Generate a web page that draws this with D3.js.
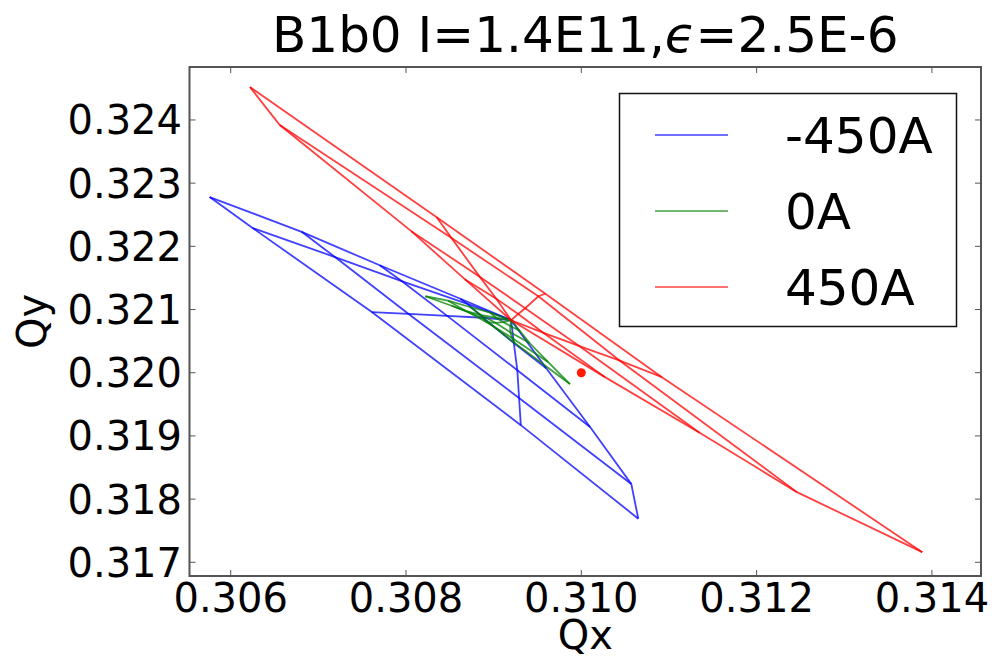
<!DOCTYPE html>
<html>
<head>
<meta charset="utf-8">
<script src="https://cdn.jsdelivr.net/npm/d3@7"></script>
<style>
  body { margin: 0; background: #fff; }
  svg { display: block; font-family: "DejaVu Sans", sans-serif; }
</style>
</head>
<body>
<svg></svg>
<script>
const size = {w: 996, h: 656};
const box = {l: 189.5, r: 981, t: 67, b: 576};

// tune footprints: small-amplitude tune + one row per amplitude level, 5 angles each
const origin = [0.30920, 0.32083];

const gridM450 = [
    [[0.30862, 0.32117], [0.30870, 0.32109], [0.30888, 0.32087], [0.30923, 0.32047], [0.30960, 0.32007]],
    [[0.30770, 0.32170], [0.30795, 0.32145], [0.30847, 0.32090], [0.30927, 0.32004], [0.31010, 0.31914]],
    [[0.30681, 0.32223], [0.30719, 0.32183], [0.30803, 0.32093], [0.30929, 0.31960], [0.31057, 0.31824]],
    [[0.30576, 0.32278], [0.30625, 0.32229], [0.30761, 0.32096], [0.30931, 0.31917], [0.31065, 0.31769]]
];

const grid0 = [
    [[0.30896, 0.32095], [0.30903, 0.32087], [0.30911, 0.32080], [0.30919, 0.32074], [0.30930, 0.32066]],
    [[0.30873, 0.32104], [0.30886, 0.32091], [0.30902, 0.32079], [0.30919, 0.32064], [0.30941, 0.32047]],
    [[0.30848, 0.32114], [0.30868, 0.32098], [0.30892, 0.32080], [0.30921, 0.32055], [0.30962, 0.32017]],
    [[0.30822, 0.32121], [0.30852, 0.32106], [0.30887, 0.32087], [0.30924, 0.32047], [0.30987, 0.31982]]
];

const grid450 = [
    [[0.30867, 0.32148], [0.30903, 0.32117], [0.30928, 0.32093], [0.30957, 0.32063], [0.31027, 0.31993]],
    [[0.30806, 0.32224], [0.30884, 0.32152], [0.30936, 0.32102], [0.30998, 0.32042], [0.31135, 0.31905]],
    [[0.30656, 0.32392], [0.30852, 0.32213], [0.30951, 0.32121], [0.31044, 0.32019], [0.31246, 0.31811]],
    [[0.30622, 0.32452], [0.30835, 0.32246], [0.30959, 0.32125], [0.31092, 0.31993], [0.31389, 0.31716]]
];

const labels = ['-450A', '0A', '450A'];
const colors = ['#0000ff', '#008000', '#ff0000'];
const workingPoint = [0.310, 0.320];

const xTicks = [0.306, 0.308, 0.310, 0.312, 0.314];
const yTicks = [0.317, 0.318, 0.319, 0.320, 0.321, 0.322, 0.323, 0.324];

const svg = d3.select('svg')
    .attr('width', size.w)
    .attr('height', size.h);

const x = d3.scaleLinear().domain([0.30553, 0.31456]).range([box.l, box.r]);
const y = d3.scaleLinear().domain([0.316783, 0.324838]).range([box.b, box.t]);

const line = d3.line()
    .x(d => x(d[0]))
    .y(d => y(d[1]));

const fmt = d3.format('.3f');

const plotG = svg.append('g');

[gridM450, grid0, grid450].forEach(function (grid, i) {
    let paths = [];
    // constant amplitude arcs
    grid.forEach(row => paths.push(row));
    // constant angle rays from the origin
    for (let j = 0; j < grid[0].length; j++) {
        paths.push([origin].concat(grid.map(row => row[j])));
    }
    plotG.append('g')
        .selectAll('path')
        .data(paths)
        .enter()
        .append('path')
        .attr('d', line)
        .attr('fill', 'none')
        .attr('stroke', colors[i])
        .attr('stroke-opacity', 0.75)
        .attr('stroke-width', 1.8);
});

plotG.append('circle')
    .attr('cx', x(workingPoint[0]))
    .attr('cy', y(workingPoint[1]))
    .attr('r', 4.5)
    .attr('fill', '#ff1a00');

// frame + inward ticks on all sides
const tickG = svg.append('g').attr('stroke', '#555').attr('stroke-width', 1);
xTicks.forEach(function (t) {
    tickG.append('line').attr('x1', x(t)).attr('x2', x(t)).attr('y1', box.b).attr('y2', box.b - 6);
    tickG.append('line').attr('x1', x(t)).attr('x2', x(t)).attr('y1', box.t).attr('y2', box.t + 6);
});
yTicks.forEach(function (t) {
    tickG.append('line').attr('x1', box.l).attr('x2', box.l + 6).attr('y1', y(t)).attr('y2', y(t));
    tickG.append('line').attr('x1', box.r).attr('x2', box.r - 6).attr('y1', y(t)).attr('y2', y(t));
});

svg.append('rect')
    .attr('x', box.l).attr('y', box.t)
    .attr('width', box.r - box.l).attr('height', box.b - box.t)
    .attr('fill', 'none')
    .attr('stroke', '#555')
    .attr('stroke-width', 2);

svg.append('g').selectAll('text')
    .data(xTicks)
    .enter()
    .append('text')
    .attr('x', d => x(d))
    .attr('y', 612)
    .attr('text-anchor', 'middle')
    .attr('font-size', 40)
    .text(d => fmt(d));

svg.append('g').selectAll('text')
    .data(yTicks)
    .enter()
    .append('text')
    .attr('x', 182)
    .attr('y', d => y(d) + 14.5)
    .attr('text-anchor', 'end')
    .attr('font-size', 40)
    .text(d => fmt(d));

svg.append('text')
    .attr('x', (box.l + box.r) / 2)
    .attr('y', 649)
    .attr('text-anchor', 'middle')
    .attr('font-size', 40)
    .text('Qx');

svg.append('text')
    .attr('transform', 'translate(46,' + (box.t + box.b) / 2 + ') rotate(-90)')
    .attr('text-anchor', 'middle')
    .attr('font-size', 40)
    .text('Qy');

// title
const title = svg.append('text')
    .attr('x', (box.l + box.r) / 2)
    .attr('y', 52)
    .attr('text-anchor', 'middle')
    .attr('font-size', 50);
title.append('tspan').text('B1b0 I=1.4E11,');
title.append('tspan').attr('font-style', 'italic').text('\u03f5');
title.append('tspan').text('=2.5E-6');

// legend
const legG = svg.append('g');
legG.append('rect')
    .attr('x', 619.5).attr('y', 93.5)
    .attr('width', 337).attr('height', 233)
    .attr('fill', '#fff')
    .attr('stroke', '#111')
    .attr('stroke-width', 1.5);

labels.forEach(function (lab, i) {
    let ly = 135 + i * 76;
    legG.append('line')
        .attr('x1', 655).attr('x2', 728)
        .attr('y1', ly).attr('y2', ly)
        .attr('stroke', colors[i])
        .attr('stroke-opacity', 0.75)
        .attr('stroke-width', 1.6);
    legG.append('text')
        .attr('x', 785)
        .attr('y', ly + 18)
        .attr('font-size', 50)
        .text(lab);
});
</script>
</body>
</html>
